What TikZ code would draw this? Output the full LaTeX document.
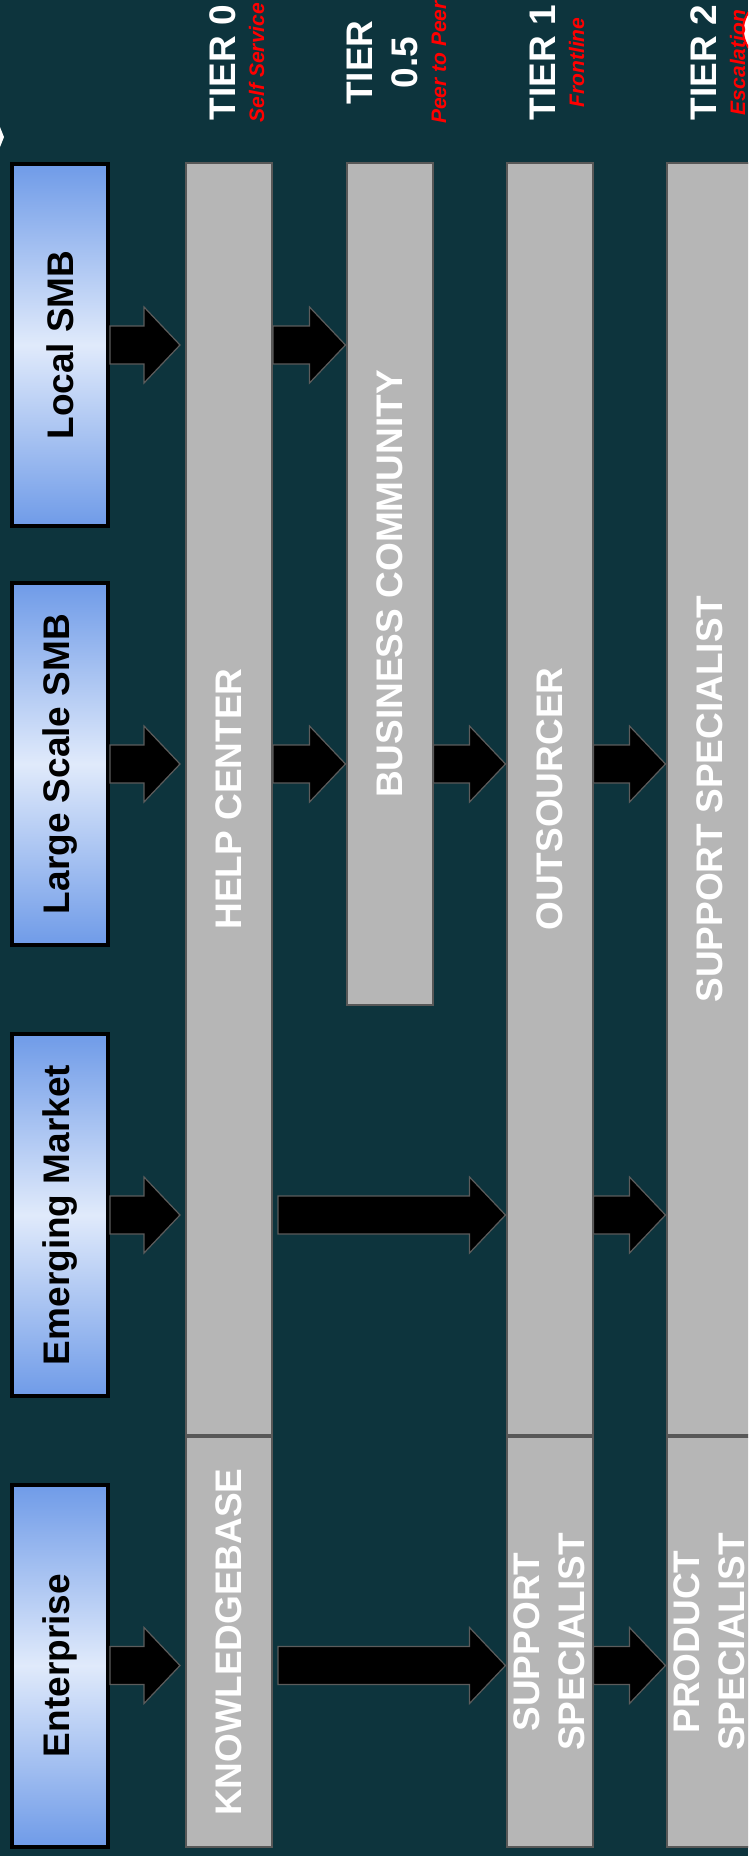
\documentclass[tikz,border=0pt]{standalone}
\usepackage{fontspec}
\setmainfont{Liberation Sans}
\usetikzlibrary{calc}
\definecolor{bgteal}{RGB}{13,52,61}
\definecolor{colgray}{RGB}{182,182,182}
\definecolor{colline}{RGB}{88,88,88}
\definecolor{blueout}{RGB}{111,155,232}
\definecolor{bluein}{RGB}{224,234,251}
\definecolor{arrline}{RGB}{92,92,92}
\definecolor{tierred}{RGB}{255,0,0}
\newcommand{\tierarrow}[2]{%
  \draw[fatarrow] let \p1=#1, \p2=#2 in
    (\x1,\y1+19pt) -- (\x2-36pt,\y1+19pt) -- (\x2-36pt,\y1+38pt) -- (\x2,\y1)
    -- (\x2-36pt,\y1-38pt) -- (\x2-36pt,\y1-19pt) -- (\x1,\y1-19pt) -- cycle;}
\tikzset{
  segbox/.style={draw=black, line width=4pt, top color=blueout, bottom color=blueout, middle color=bluein, minimum width=96pt, minimum height=362pt, inner sep=0pt},
  segtext/.style={rotate=90, inner sep=0pt, text=black, font=\fontsize{37}{44.5}\selectfont\bfseries},
  colbox/.style={draw=colline, line width=2pt, fill=colgray, minimum width=86pt, inner sep=0pt},
  coltext/.style={rotate=90, inner sep=0pt, text=white, align=center, font=\fontsize{37}{44.5}\selectfont\bfseries},
  tierbig/.style={rotate=90, anchor=base, inner sep=0pt, text=white, font=\fontsize{37}{44.5}\selectfont\bfseries},
  tiersub/.style={rotate=90, anchor=base, inner sep=0pt, text=tierred, font=\fontsize{21}{25}\selectfont\bfseries\itshape},
  fatarrow/.style={fill=black, draw=arrline, line width=1.2pt, line join=miter},
}
\begin{document}
\begin{tikzpicture}[x=1pt,y=-1pt]
\useasboundingbox (0,0) rectangle (748,1856);
\clip (0,0) rectangle (748,1856);
\fill[bgteal] (0,0) rectangle (748,1856);
% partial shapes at the edges
\fill[white] (0,127) -- (4,137) -- (0,147) -- cycle;
\draw[draw=tierred, fill=white, line width=2pt] (774,30) circle[radius=31];

% tier columns
\node[colbox, minimum height=1272pt] (help) at (229,799) {};
\node[colbox, minimum height=410pt] (kb) at (229,1642) {};
\node[colbox, minimum height=842pt] (bc) at (389.5,584) {};
\node[colbox, minimum height=1272pt] (outs) at (549.5,799) {};
\node[colbox, minimum height=410pt] (supp) at (549.5,1642) {};
\node[colbox, minimum height=1272pt] (suppspec) at (709.5,799) {};
\node[colbox, minimum height=410pt] (prod) at (709.5,1642) {};

% segment boxes
\node[segbox] (local) at (60,345) {};
\node[segbox] (large) at (60,764) {};
\node[segbox] (emerg) at (60,1215) {};
\node[segbox] (enter) at (60,1665.5) {};

% arrows: Local SMB
\tierarrow{(local.east)}{($(help.west|-local.center)+(-5,0)$)}
\tierarrow{(help.east|-local.center)}{(bc.west|-local.center)}
% Large Scale SMB
\tierarrow{(large.east)}{($(help.west|-large.center)+(-5,0)$)}
\tierarrow{(help.east|-large.center)}{(bc.west|-large.center)}
\tierarrow{(bc.east|-large.center)}{(outs.west|-large.center)}
\tierarrow{(outs.east|-large.center)}{(suppspec.west|-large.center)}
% Emerging Market
\tierarrow{(emerg.east)}{($(help.west|-emerg.center)+(-5,0)$)}
\tierarrow{($(help.east|-emerg.center)+(5,0)$)}{(outs.west|-emerg.center)}
\tierarrow{(outs.east|-emerg.center)}{(suppspec.west|-emerg.center)}
% Enterprise
\tierarrow{(enter.east)}{($(kb.west|-enter.center)+(-5,0)$)}
\tierarrow{($(kb.east|-enter.center)+(5,0)$)}{(supp.west|-enter.center)}
\tierarrow{(supp.east|-enter.center)}{(prod.west|-enter.center)}

% segment labels
\node[segtext] (localtext) at (local) {Local SMB};
\node[segtext] (largetext) at (large) {Large Scale SMB};
\node[segtext] (emergtext) at (emerg) {Emerging Market};
\node[segtext] (entertext) at (enter) {Enterprise};

% column labels
\node[coltext] (helptext) at (help) {HELP CENTER};
\node[coltext] (kbtext) at (kb) {KNOWLEDGEBASE};
\node[coltext] (bctext) at (bc) {BUSINESS COMMUNITY};
\node[coltext] (outstext) at (outs) {OUTSOURCER};
\node[coltext] (supptext) at (supp) {SUPPORT\\SPECIALIST};
\node[coltext] (suppspectext) at (suppspec) {SUPPORT SPECIALIST};
\node[coltext] (prodtext) at (prod) {PRODUCT\\SPECIALIST};

% tier headings
\node[tierbig] (t0) at (235,62.5) {TIER 0};
\node[tiersub] (t0s) at (264,62.5) {Self Service};
\node[tierbig] (t05a) at (372,62.5) {TIER};
\node[tierbig] (t05b) at (417,62.5) {0.5};
\node[tiersub] (t05s) at (446,62.5) {Peer to Peer};
\node[tierbig] (t1) at (555,62.5) {TIER 1};
\node[tiersub] (t1s) at (584,62.5) {Frontline};
\node[tierbig] (t2) at (716,62.5) {TIER 2};
\node[tiersub] (t2s) at (745,62.5) {Escalation};
\end{tikzpicture}
\end{document}
